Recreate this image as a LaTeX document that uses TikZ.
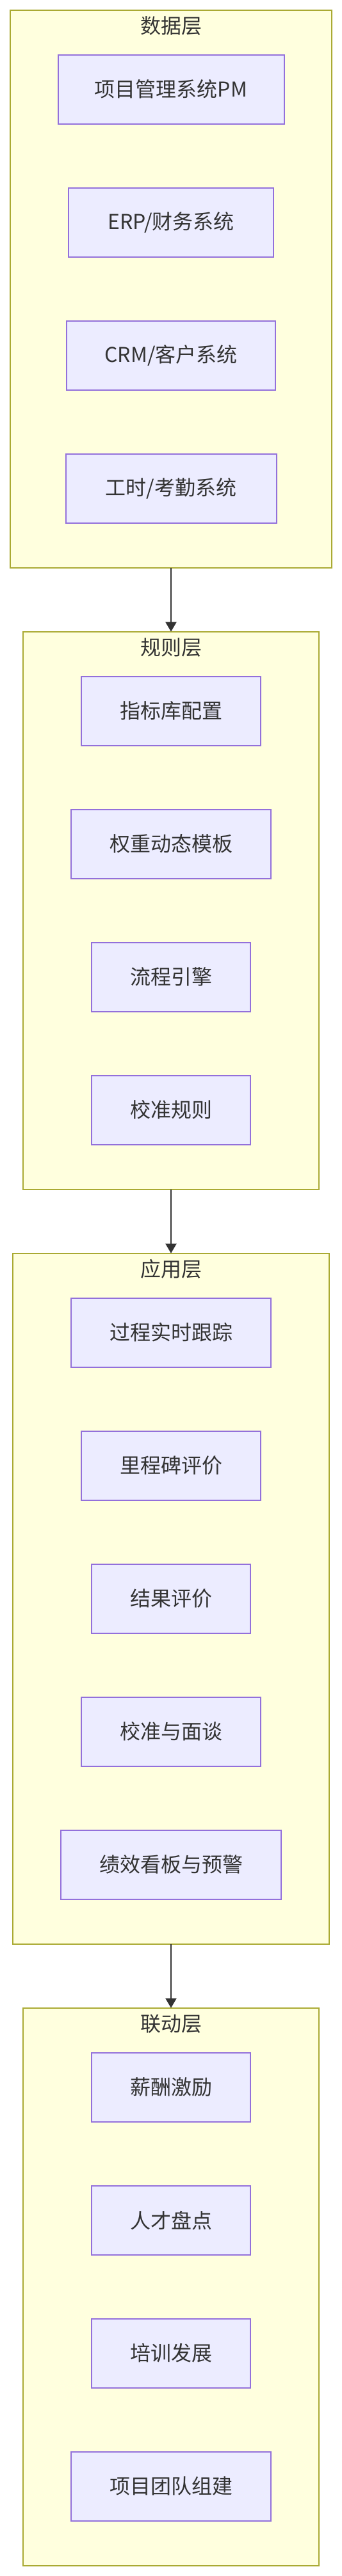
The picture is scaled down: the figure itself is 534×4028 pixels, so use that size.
\documentclass[tikz,border=0pt]{standalone}
\usepackage{fontspec}
\setmainfont{Noto Sans CJK SC}
\usetikzlibrary{arrows.meta}
\definecolor{nodefill}{HTML}{ECECFF}
\definecolor{nodeline}{HTML}{9370DB}
\definecolor{layerfill}{HTML}{FFFFDE}
\definecolor{layerline}{HTML}{AAAA33}
\definecolor{txt}{HTML}{333333}
\tikzset{
  layer/.style={draw=layerline, fill=layerfill, line width=2pt, outer sep=0pt, inner sep=0pt, minimum height=872pt},
  ltitle/.style={text=txt, font=\fontsize{32}{38}\selectfont, inner sep=0pt},
  box/.style={draw=nodeline, fill=nodefill, line width=2pt, text=txt, font=\fontsize{32}{38}\selectfont, inner xsep=0pt, inner ysep=0pt, minimum height=108pt, outer sep=0pt},
  link/.style={draw=txt, line width=2pt, -{Triangle[length=15pt,width=17pt]}}
}
\begin{document}
\begin{tikzpicture}[x=1pt,y=-1pt]
\useasboundingbox (0,0) rectangle (534,4028);
\fill[white] (0,0) rectangle (534,4028);
% layers
\node[layer, minimum width=502pt] (L1) at (267,451.7) {};
\node[layer, minimum width=462pt] (L2) at (267,1423.7) {};
\node[layer, minimum width=494pt, minimum height=1080pt] (L3) at (267,2499.7) {};
\node[layer, minimum width=462pt] (L4) at (267,3575.7) {};
\node[ltitle] (T1) at (267,40.7) {数据层};
\node[ltitle] (T2) at (267,1012.7) {规则层};
\node[ltitle] (T3) at (267,1984.7) {应用层};
\node[ltitle] (T4) at (267,3164.7) {联动层};
% data layer
\node[box, minimum width=353pt] (d1) at (267,139.7) {项目管理系统PM};
\node[box, minimum width=320pt] (d2) at (267,347.7) {ERP/财务系统};
\node[box, minimum width=326pt] (d3) at (267,555.7) {CRM/客户系统};
\node[box, minimum width=329pt] (d4) at (267,763.7) {工时/考勤系统};
% rule layer
\node[box, minimum width=280pt] (r1) at (267,1111.7) {指标库配置};
\node[box, minimum width=312pt] (r2) at (267,1319.7) {权重动态模板};
\node[box, minimum width=248pt] (r3) at (267,1527.7) {流程引擎};
\node[box, minimum width=248pt] (r4) at (267,1735.7) {校准规则};
% application layer
\node[box, minimum width=312pt] (a1) at (267,2083.7) {过程实时跟踪};
\node[box, minimum width=280pt] (a2) at (267,2291.7) {里程碑评价};
\node[box, minimum width=248pt] (a3) at (267,2499.7) {结果评价};
\node[box, minimum width=280pt] (a4) at (267,2707.7) {校准与面谈};
\node[box, minimum width=344pt] (a5) at (267,2915.7) {绩效看板与预警};
% linkage layer
\node[box, minimum width=248pt] (k1) at (267,3263.7) {薪酬激励};
\node[box, minimum width=248pt] (k2) at (267,3471.7) {人才盘点};
\node[box, minimum width=248pt] (k3) at (267,3679.7) {培训发展};
\node[box, minimum width=312pt] (k4) at (267,3887.7) {项目团队组建};
% connectors
\draw[link] (L1.south) -- (L2.north);
\draw[link] (L2.south) -- (L3.north);
\draw[link] (L3.south) -- (L4.north);
\end{tikzpicture}
\end{document}
